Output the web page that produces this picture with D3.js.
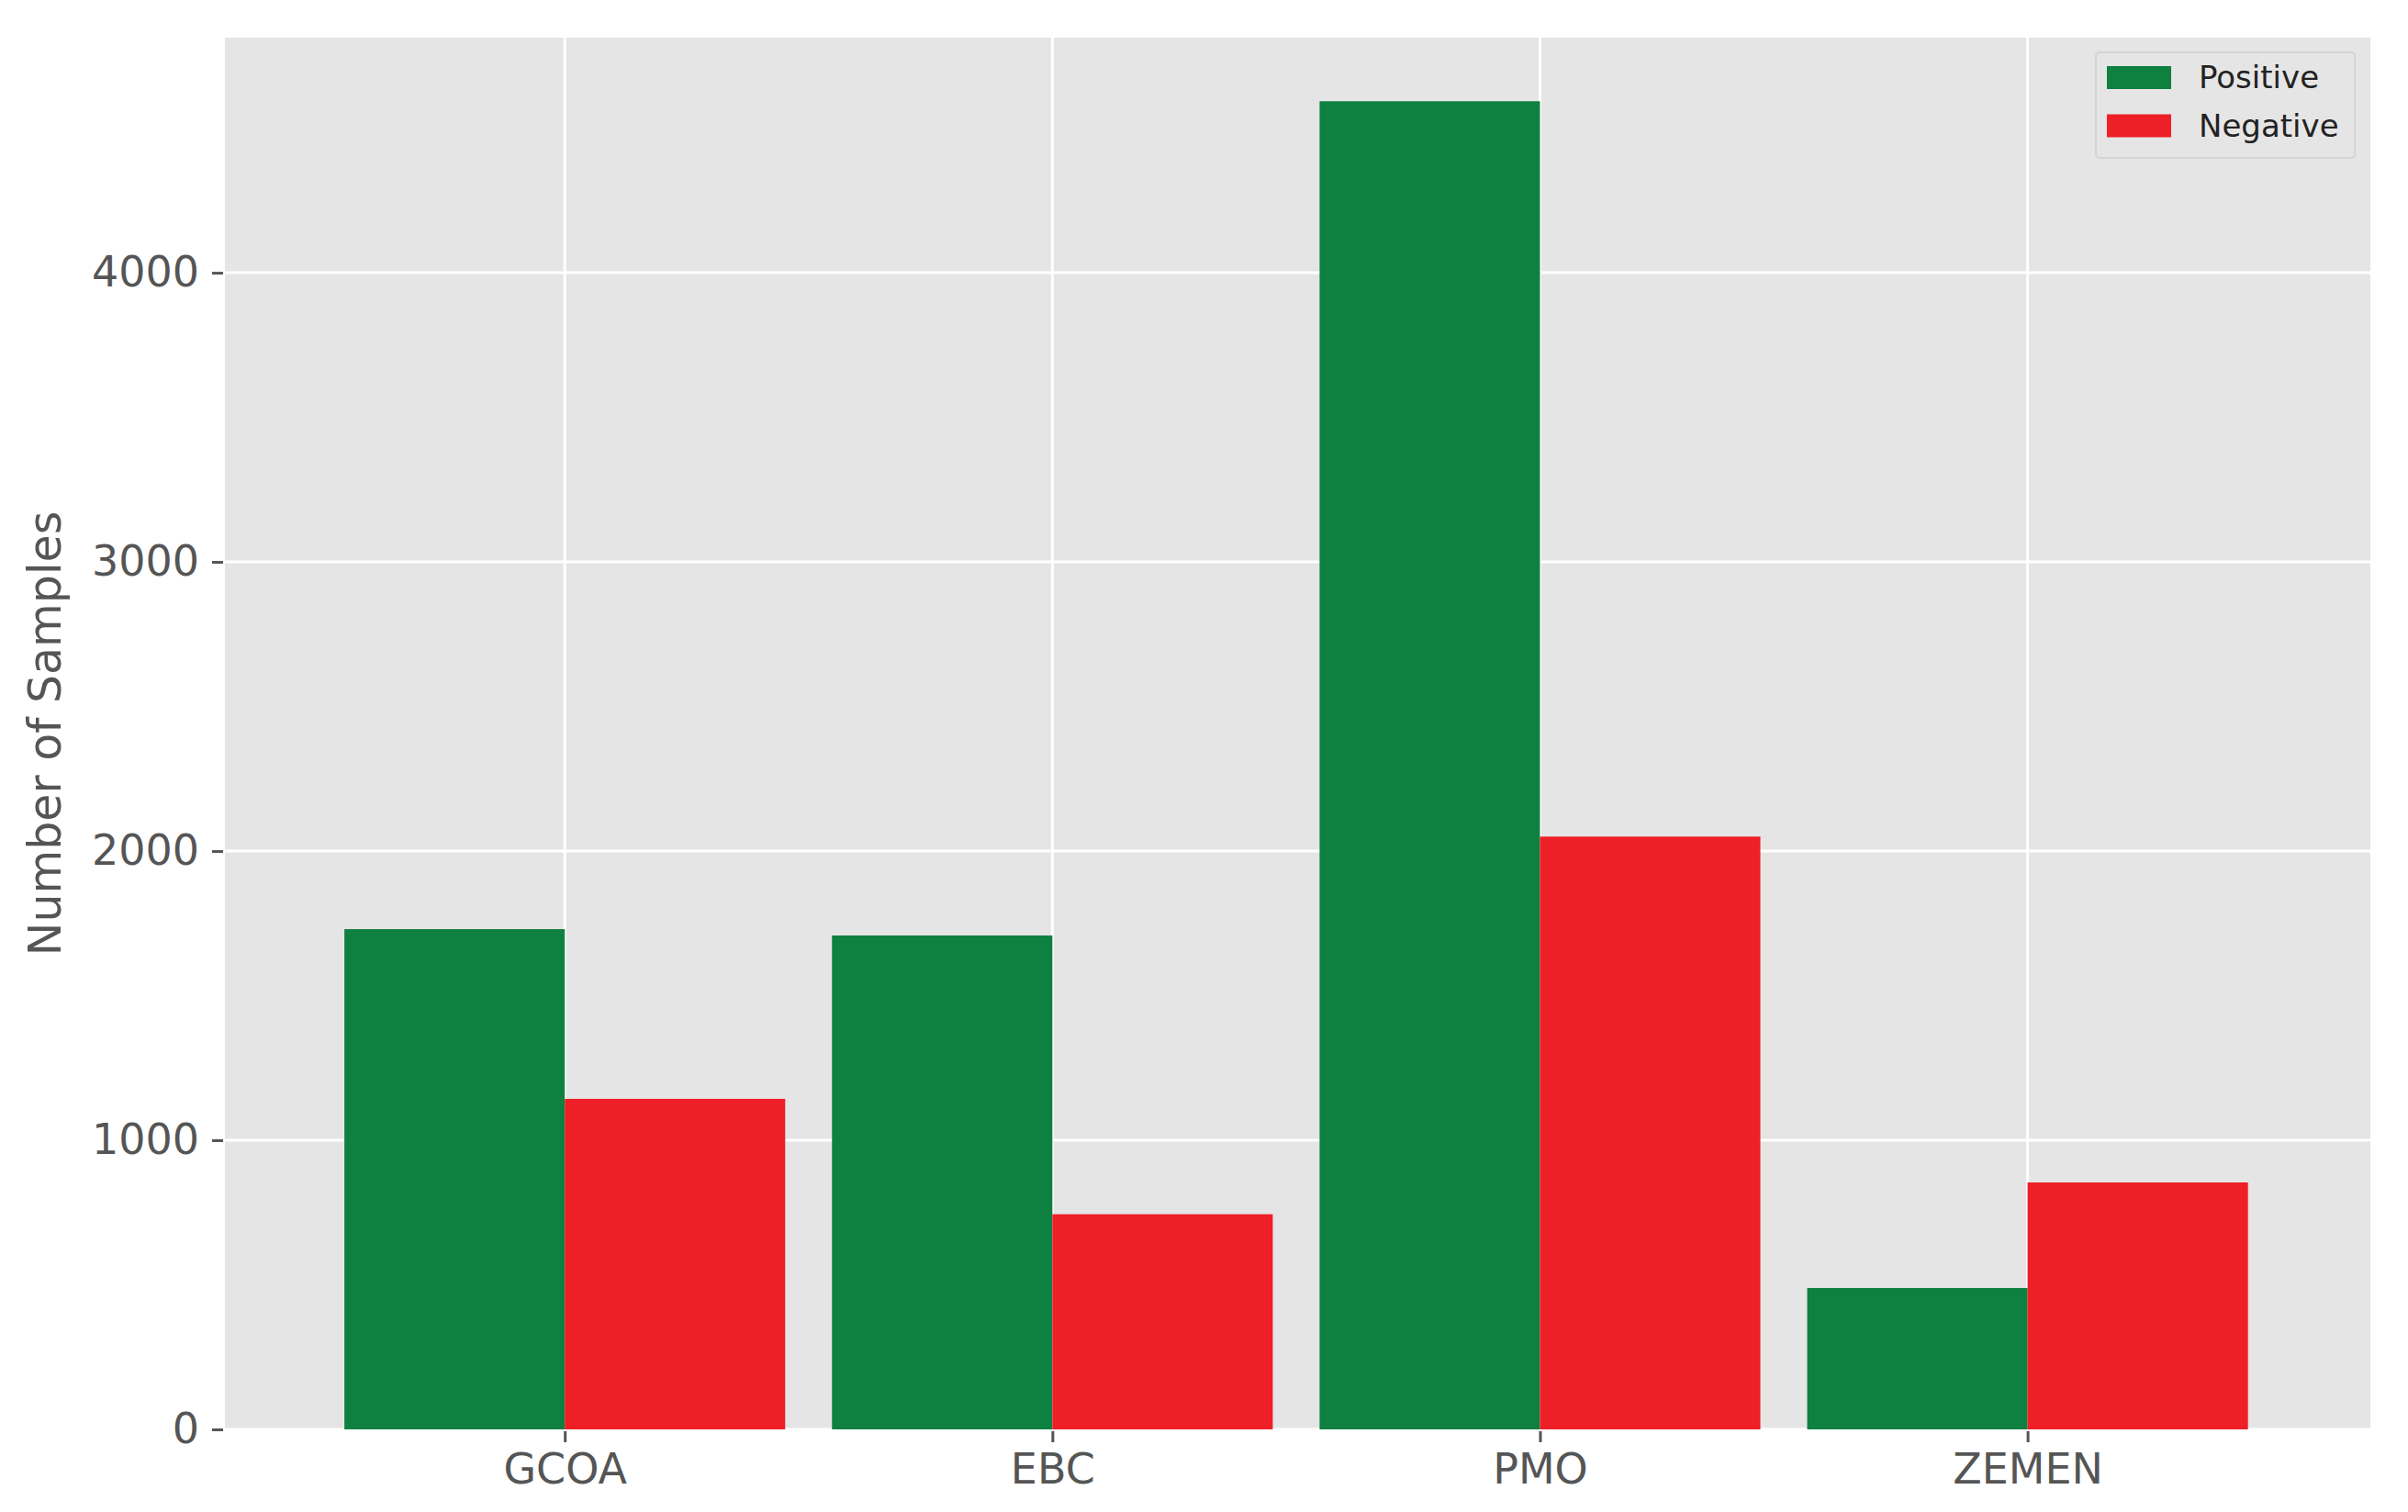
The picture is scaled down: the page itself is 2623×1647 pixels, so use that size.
<!DOCTYPE html>
<html>
<head>
<meta charset="utf-8">
<script src="https://cdn.jsdelivr.net/npm/d3@7"></script>
<style>
  html, body { margin: 0; padding: 0; background: #ffffff; }
  svg { display: block; }
  text { font-family: "DejaVu Sans", sans-serif; }
</style>
</head>
<body>
<script>
// ---- data ----
const categories = ["GCOA", "EBC", "PMO", "ZEMEN"];
const positiveValues = [1730, 1708, 4593, 489];
const negativeValues = [1143, 744, 2050, 854];
const seriesNames = ["Positive", "Negative"];
const seriesColors = ["#0E8040", "#EE1F26"];
const yTicks = [0, 1000, 2000, 3000, 4000];
const yMax = 4813;
const xDomain = [-0.697, 3.703];
const barWidth = 0.452;

// ---- layout ----
const W = 2623, H = 1647;
const plot = { left: 245, right: 2582, top: 41, bottom: 1557 };

const svg = d3.select("body").append("svg")
  .attr("width", W).attr("height", H);

const x = d3.scaleLinear().domain(xDomain).range([plot.left, plot.right]);
const y = d3.scaleLinear().domain([0, yMax]).range([plot.bottom, plot.top]);

// background
svg.append("rect")
  .attr("x", plot.left).attr("y", plot.top)
  .attr("width", plot.right - plot.left).attr("height", plot.bottom - plot.top)
  .attr("fill", "#E5E5E5");

// gridlines
const g = svg.append("g");
g.selectAll("line.hgrid").data(yTicks).enter().append("line")
  .attr("x1", plot.left).attr("x2", plot.right)
  .attr("y1", d => y(d)).attr("y2", d => y(d))
  .attr("stroke", "#ffffff").attr("stroke-width", 3);
g.selectAll("line.vgrid").data(categories).enter().append("line")
  .attr("y1", plot.top).attr("y2", plot.bottom)
  .attr("x1", (d, i) => x(i)).attr("x2", (d, i) => x(i))
  .attr("stroke", "#ffffff").attr("stroke-width", 3);

// bars
const series = [positiveValues, negativeValues];
series.forEach((vals, s) => {
  svg.append("g").selectAll("rect").data(vals).enter().append("rect")
    .attr("x", (d, i) => s === 0 ? x(i - barWidth) : x(i))
    .attr("width", x(barWidth) - x(0))
    .attr("y", d => y(d))
    .attr("height", d => y(0) - y(d))
    .attr("fill", seriesColors[s]);
});

// y axis
const yAxis = d3.axisLeft(y).tickValues(yTicks).tickSize(12).tickPadding(14)
  .tickFormat(d3.format("d"));
const ya = svg.append("g").attr("transform", `translate(${plot.left - 2},0)`).call(yAxis);
ya.select(".domain").remove();
ya.selectAll(".tick line").attr("stroke", "#555555").attr("stroke-width", 3);
ya.selectAll(".tick text").attr("fill", "#555555").style("font-size", "46px")
  .style("font-family", "DejaVu Sans");

// x axis
const xAxis = d3.axisBottom(x).tickValues(d3.range(categories.length))
  .tickFormat(i => categories[i]).tickSize(12).tickPadding(12);
const xa = svg.append("g").attr("transform", `translate(0,${plot.bottom + 2})`).call(xAxis);
xa.select(".domain").remove();
xa.selectAll(".tick line").attr("stroke", "#555555").attr("stroke-width", 3);
xa.selectAll(".tick text").attr("fill", "#555555").style("font-size", "46px")
  .style("font-family", "DejaVu Sans");

// y label
svg.append("text")
  .attr("transform", `translate(66,${(plot.top + plot.bottom) / 2}) rotate(-90)`)
  .attr("text-anchor", "middle")
  .attr("fill", "#555555")
  .style("font-size", "49px")
  .text("Number of Samples");

// legend
const lg = svg.append("g");
lg.append("rect")
  .attr("x", 2283).attr("y", 57).attr("width", 282).attr("height", 115)
  .attr("rx", 4).attr("fill", "#E5E5E5").attr("fill-opacity", 0.8)
  .attr("stroke", "#D4D4D4").attr("stroke-width", 2);
seriesNames.forEach((name, i) => {
  lg.append("rect")
    .attr("x", 2295).attr("y", 72 + i * 52.5).attr("width", 70).attr("height", 25)
    .attr("fill", seriesColors[i]);
  lg.append("text")
    .attr("x", 2395).attr("y", 96 + i * 52.5)
    .attr("fill", "#222222")
    .style("font-size", "34px")
    .text(name);
});
</script>
</body>
</html>
